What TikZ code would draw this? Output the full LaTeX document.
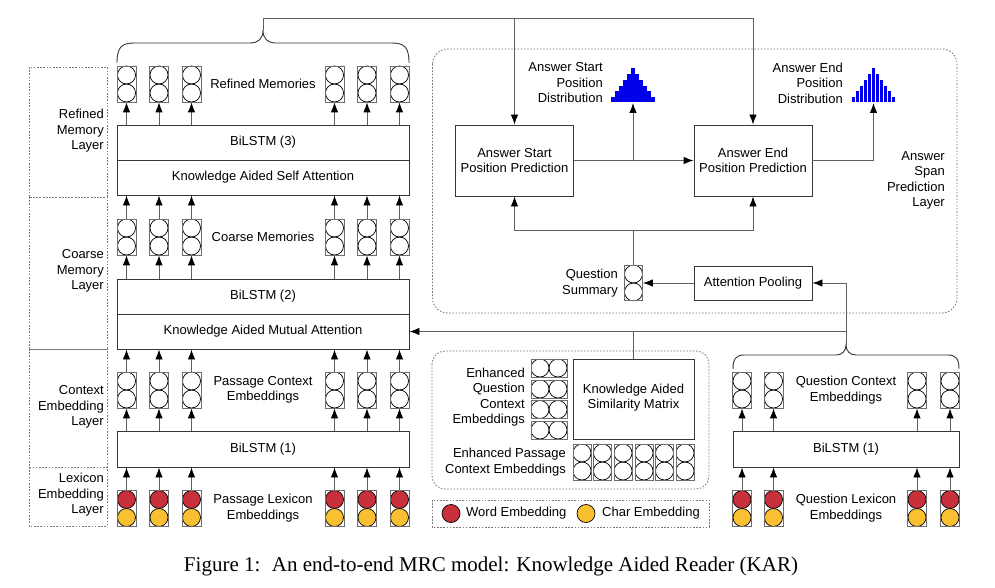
\documentclass[tikz,border=0pt]{standalone}
\usepackage{fontspec}
\setmainfont{Liberation Sans}
\newfontfamily\capfont{Liberation Serif}
\usetikzlibrary{arrows.meta,calc}
\definecolor{wordred}{RGB}{200,48,60}
\definecolor{charyel}{RGB}{250,192,50}
\definecolor{histblue}{RGB}{0,0,235}
\definecolor{linegray}{RGB}{95,95,95}
\definecolor{boxgray}{RGB}{55,55,55}
\definecolor{cellgray}{RGB}{110,110,110}
\definecolor{dashgray}{RGB}{120,120,120}
\tikzset{
  txt/.style={font=\fontsize{13}{15.5}\selectfont, inner sep=0pt, align=center},
  rtxt/.style={txt, align=right, anchor=east},
  blk/.style={draw=boxgray, line width=0.9pt, fill=white, inner sep=0pt,
    font=\fontsize{13}{15.5}\selectfont, align=center},
  conn/.style={draw=linegray, line width=0.9pt},
  arr/.style={conn, -{Latex[length=10pt,width=7.5pt,color=black]}},
  dbox/.style={draw=dashgray, line width=0.8pt, dash pattern=on 1.6pt off 1.6pt},
  vcell/.style={draw=cellgray, line width=0.8pt, minimum width=19pt, minimum height=36pt,
    inner sep=0pt, path picture={
      \draw[black, line width=0.7pt] ([yshift=9pt]path picture bounding box.center) circle (9pt);
      \draw[black, line width=0.7pt] ([yshift=-9pt]path picture bounding box.center) circle (9pt);}},
  lcell/.style={draw=cellgray, line width=0.8pt, minimum width=19pt, minimum height=36pt,
    inner sep=0pt, path picture={
      \draw[black, line width=0.7pt, fill=wordred] ([yshift=9pt]path picture bounding box.center) circle (9pt);
      \draw[black, line width=0.7pt, fill=charyel] ([yshift=-9pt]path picture bounding box.center) circle (9pt);}},
  hcell/.style={draw=cellgray, line width=0.8pt, minimum width=36pt, minimum height=18pt,
    inner sep=0pt, path picture={
      \draw[black, line width=0.7pt] ([xshift=9pt]path picture bounding box.center) circle (9pt);
      \draw[black, line width=0.7pt] ([xshift=-9pt]path picture bounding box.center) circle (9pt);}},
  brace/.style={draw=boxgray, line width=0.9pt},
}
\begin{document}
\begin{tikzpicture}[x=1pt,y=-1pt]
\useasboundingbox (0,0) rectangle (995,588);
\fill[white] (0,0) rectangle (995,588);

% ---------- layer boxes (left) ----------
\draw[dbox] (29,67) rectangle (107,197);
\draw[dbox] (29,197) rectangle (107,349);
\draw[dbox] (29,349) rectangle (107,467);
\draw[dbox] (29,467) rectangle (107,526);
\node[rtxt] (lay1) at (104,131) {Refined\\Memory\\Layer};
\node[rtxt] (lay2) at (104,271) {Coarse\\Memory\\Layer};
\node[rtxt] (lay3) at (104,407) {Context\\Embedding\\Layer};
\node[rtxt] (lay4) at (104,495) {Lexicon\\Embedding\\Layer};

% ---------- passage stack ----------
\node[blk, minimum width=292pt, minimum height=35pt] (bil3) at (263,142.5) {BiLSTM (3)};
\node[blk, minimum width=292pt, minimum height=35pt] (kasa) at (263,177.5) {Knowledge Aided Self Attention};
\node[blk, minimum width=292pt, minimum height=35pt] (bil2) at (263,296.5) {BiLSTM (2)};
\node[blk, minimum width=292pt, minimum height=35pt] (kama) at (263,331.5) {Knowledge Aided Mutual Attention};
\node[blk, minimum width=292pt, minimum height=36pt] (bil1) at (263,449) {BiLSTM (1)};

\foreach \n/\x in {1/126.5,2/159,3/191.5,4/334.5,5/367,6/399.5}{
  \node[vcell] (rm\n) at (\x,84) {};
  \node[vcell] (cm\n) at (\x,237) {};
  \node[vcell] (pc\n) at (\x,390) {};
  \node[lcell] (pl\n) at (\x,508.5) {};
  \draw[arr] (pl\n.north) -- (pl\n.north |- bil1.south);
  \draw[arr] (bil1.north -| pc\n.south) -- (pc\n.south);
  \draw[arr] (pc\n.north) -- (pc\n.north |- kama.south);
  \draw[arr] (bil2.north -| cm\n.south) -- (cm\n.south);
  \draw[arr] (cm\n.north) -- (cm\n.north |- kasa.south);
  \draw[arr] (bil3.north -| rm\n.south) -- (rm\n.south);
}
\node[txt] (rmlab) at (263,84) {Refined Memories};
\node[txt] (cmlab) at (263,237) {Coarse Memories};
\node[txt] (pclab) at (263,390) {Passage Context\\Embeddings};
\node[txt] (pllab) at (263,508) {Passage Lexicon\\Embeddings};

% top brace
\draw[brace] (117,63) .. controls (117,48) and (121,43) .. (134,43) -- (250,43)
  .. controls (258,43) and (263,39) .. (263,30) coordinate (ptip)
  .. controls (263,39) and (268,43) .. (276,43) -- (392,43)
  .. controls (405,43) and (409,48) .. (409,63);

% ---------- answer span prediction layer ----------
\draw[dbox, rounded corners=15pt] (432.5,49) rectangle (957,313);
\node[rtxt] (asplab) at (945,180.5) {Answer\\Span\\Prediction\\Layer};
\node[blk, minimum width=118pt, minimum height=71pt] (start) at (514.5,160.5) {Answer Start\\Position Prediction};
\node[blk, minimum width=118pt, minimum height=71pt] (end) at (753,160.5) {Answer End\\Position Prediction};
\node[blk, minimum width=118pt, minimum height=34pt] (ap) at (753,283) {Attention Pooling};
\node[vcell, minimum width=18pt, minimum height=35pt] (qsum) at (633.5,283) {};
\node[rtxt] (qsumlab) at (618,283) {Question\\Summary};
\node[rtxt] (adlab1) at (603,83) {Answer Start\\Position\\Distribution};
\node[rtxt] (adlab2) at (843,83) {Answer End\\Position\\Distribution};

% histograms
\foreach \c/\nm in {633/h1,873.5/h2}{
  \foreach \i/\h in {-5/5,-4/11,-3/16,-2/22,-1/28,0/34,1/28,2/22,3/16,4/11,5/5}{
    \fill[histblue] (\c+4*\i-1.7,102) rectangle ++(3.4,-\h);
  }
  \coordinate (\nm) at (\c,103);
}
\draw[arr] (start.east) -- (end.west);
\draw[arr] (start.east -| h1) -- (h1);
\draw[arr] (end.east) -| (h2);
\coordinate (j1) at (633.5,230);
\draw[conn] (qsum.north) -- (j1);
\draw[arr] (j1) -| (start.south);
\draw[arr] (j1) -| (end.south);
\draw[arr] (ap.west) -- (qsum.east);

% top connector from refined memories
\coordinate (ttop) at (263,18);
\draw[arr] (ptip) -- (ttop) -| (end.north);
\draw[arr] (ttop -| start.north) -- (start.north);

% ---------- similarity block ----------
\draw[dbox, rounded corners=13pt] (432,351) rectangle (709,489);
\node[blk, minimum width=121pt, minimum height=80pt] (kasm) at (633.5,399) {};
\node[txt] (kasmlab) at (633.5,397.5) {Knowledge Aided\\Similarity Matrix};
\foreach \n/\y in {1/368,2/389,3/409.5,4/430}{
  \node[hcell] (eq\n) at (549,\y) {};
}
\node[rtxt] (eqlab) at (525,397) {Enhanced\\Question\\Context\\Embeddings};
\foreach \n/\x in {1/582,2/602.5,3/623,4/644,5/664.5,6/685}{
  \node[vcell, minimum width=18pt] (ep\n) at (\x,462) {};
}
\node[rtxt] (eplab) at (566,462) {Enhanced Passage\\Context Embeddings};

% legend
\draw[dbox] (432,500) rectangle (709,527);
\node[circle, draw=black, line width=0.7pt, fill=wordred, minimum size=18pt, inner sep=0pt] (lgw) at (451,513.5) {};
\node[txt, anchor=west] (lgwt) at (466,513.5) {Word Embedding};
\node[circle, draw=black, line width=0.7pt, fill=charyel, minimum size=18pt, inner sep=0pt] (lgc) at (586,513.5) {};
\node[txt, anchor=west] (lgct) at (602,513.5) {Char Embedding};

% ---------- question stack ----------
\node[blk, minimum width=226pt, minimum height=36pt] (qbil) at (846,449) {BiLSTM (1)};
\foreach \n/\x in {1/742,2/773.5,3/917,4/950}{
  \node[vcell] (qc\n) at (\x,390) {};
  \node[lcell] (ql\n) at (\x,508.5) {};
  \draw[arr] (ql\n.north) -- (ql\n.north |- qbil.south);
  \draw[arr] (qbil.north -| qc\n.south) -- (qc\n.south);
}
\node[txt] (qclab) at (846,390) {Question Context\\Embeddings};
\node[txt] (qllab) at (846,508) {Question Lexicon\\Embeddings};
\draw[brace] (733,369) .. controls (733,359) and (736,355) .. (744,355) -- (836,355)
  .. controls (842,355) and (846,351) .. (846,345) coordinate (qtip)
  .. controls (846,351) and (850,355) .. (856,355) -- (948,355)
  .. controls (956,355) and (959,359) .. (959,369);
\coordinate (j2) at (846,331.5);
\draw[conn] (qtip) -- (j2);
\draw[arr] (j2) -- (kama.east);
\draw[arr] (j2) |- (ap.east);
\draw[conn] (kasm.north) -- (kasm.north |- j2);

% caption
\node[font=\capfont\fontsize{21}{25}\selectfont, inner sep=0pt] (cap) at (491,566)
  {Figure 1:\hspace{0.55em}An end-to-end MRC model: Knowledge Aided Reader (KAR)};
\end{tikzpicture}
\end{document}
